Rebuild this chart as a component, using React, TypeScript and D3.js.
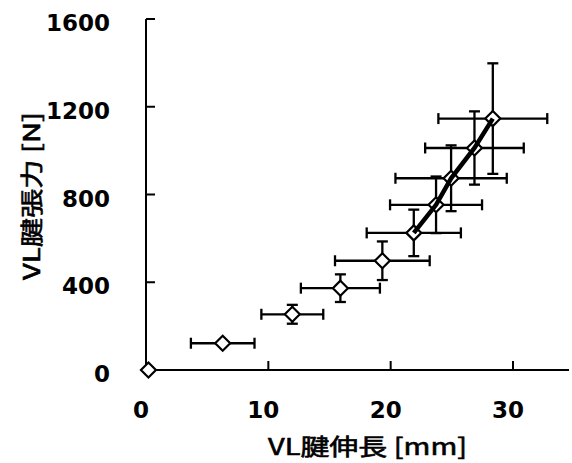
import React from "react";
import * as d3 from "d3";

const tendonElong = [0.2, 6.27, 11.96, 15.89, 19.32, 21.89, 23.71, 24.94, 26.85, 28.35];
const tendonForce = [0, 122, 254, 373, 498, 625, 753, 874, 1012, 1146];
const elongSD = [0, 2.6, 2.53, 3.23, 3.87, 3.85, 3.76, 4.55, 4.03, 4.45];
const forceSD = [0, 0, 43, 63, 88, 106, 129, 150, 167, 252];
const lineFrom = 5; // the thick regression line joins points 5..9
const xTicks = [0, 10, 20, 30];
const yTicks = [0, 400, 800, 1200, 1600];
const xTitle = "VL腱伸長 [mm]";
const yTitle = "VL腱張力 [N]";

const W = 572;
const H = 463;

export default function App() {
  const x = d3.scaleLinear().domain([0, 30]).range([146, 513]);
  const y = d3.scaleLinear().domain([0, 1600]).range([370, 19]);
  const xEnd = 569;
  const cap = 5.5;
  const dm = 7.5;
  const pts = tendonElong.map((v, i) => ({ x: v, y: tendonForce[i], ex: elongSD[i], ey: forceSD[i] }));
  const line = d3
    .line<{ x: number; y: number }>()
    .x((d) => x(d.x))
    .y((d) => y(d.y));
  const numFont = "'DejaVu Sans', sans-serif";
  const titleFont = "'Noto Sans CJK JP', sans-serif";

  return (
    <svg
      width={W}
      height={H}
      viewBox={`0 0 ${W} ${H}`}
      style={{ position: "absolute", left: 0, top: 0, background: "#fff" }}
    >
      {/* axes */}
      <line x1={x(0)} x2={x(0)} y1={y(0)} y2={y(1600)} stroke="#000" strokeWidth={2} />
      <line x1={x(0)} x2={xEnd} y1={y(0)} y2={y(0)} stroke="#000" strokeWidth={2} />
      {yTicks.map((t) => (
        <g key={"yt" + t}>
          <line x1={x(0)} x2={x(0) + 9} y1={y(t)} y2={y(t)} stroke="#000" strokeWidth={2} />
          <text
            x={110}
            y={y(t) + 12}
            textAnchor="end"
            fontFamily={numFont}
            fontWeight="bold"
            fontSize={23}
            fill="#000"
          >
            {t}
          </text>
        </g>
      ))}
      {xTicks.map((t) => (
        <g key={"xt" + t}>
          {t > 0 && <line x1={x(t)} x2={x(t)} y1={y(0)} y2={y(0) - 9} stroke="#000" strokeWidth={2} />}
          <text
            x={x(t) - 5}
            y={418}
            textAnchor="middle"
            fontFamily={numFont}
            fontWeight="bold"
            fontSize={23}
            fill="#000"
          >
            {t}
          </text>
        </g>
      ))}
      {/* error bars */}
      {pts.map((p, i) => (
        <g key={"e" + i} stroke="#000" strokeWidth={2.3} fill="none">
          {p.ex > 0 && (
            <>
              <line x1={x(p.x - p.ex)} x2={x(p.x + p.ex)} y1={y(p.y)} y2={y(p.y)} />
              <line x1={x(p.x - p.ex)} x2={x(p.x - p.ex)} y1={y(p.y) - cap} y2={y(p.y) + cap} />
              <line x1={x(p.x + p.ex)} x2={x(p.x + p.ex)} y1={y(p.y) - cap} y2={y(p.y) + cap} />
            </>
          )}
          {p.ey > 0 && (
            <>
              <line x1={x(p.x)} x2={x(p.x)} y1={y(p.y - p.ey)} y2={y(p.y + p.ey)} />
              <line x1={x(p.x) - cap} x2={x(p.x) + cap} y1={y(p.y - p.ey)} y2={y(p.y - p.ey)} />
              <line x1={x(p.x) - cap} x2={x(p.x) + cap} y1={y(p.y + p.ey)} y2={y(p.y + p.ey)} />
            </>
          )}
        </g>
      ))}
      {/* markers */}
      {pts.map((p, i) => {
        const cx = x(p.x);
        const cy = y(p.y);
        return (
          <path
            key={"m" + i}
            d={`M${cx},${cy - dm}L${cx + dm},${cy}L${cx},${cy + dm}L${cx - dm},${cy}Z`}
            fill="#fff"
            stroke="#000"
            strokeWidth={2.2}
          />
        );
      })}
      {/* thick line */}
      <path d={line(pts.slice(lineFrom)) || ""} fill="none" stroke="#000" strokeWidth={4.5} />
      {/* titles */}
      <text
        x={268}
        y={455}
        fontFamily={titleFont}
        fontSize={23}
        textLength={199}
        lengthAdjust="spacingAndGlyphs"
        fill="#000"
        stroke="#000"
        strokeWidth={0.6}
      >
        {xTitle}
      </text>
      <text
        transform={`translate(40,280) rotate(-90)`}
        x={0}
        y={0}
        fontFamily={titleFont}
        fontSize={23}
        textLength={168}
        lengthAdjust="spacingAndGlyphs"
        fill="#000"
        stroke="#000"
        strokeWidth={0.6}
      >
        {yTitle}
      </text>
    </svg>
  );
}
